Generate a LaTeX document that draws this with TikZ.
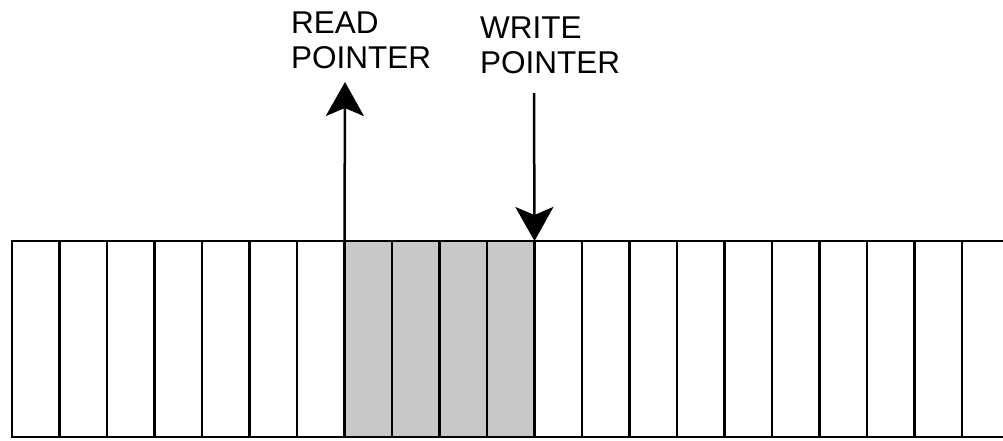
\documentclass[tikz,border=0pt]{standalone}
\usepackage{fontspec}
\newfontfamily\lblfont{Liberation Sans}
\usetikzlibrary{arrows.meta}
\definecolor{usedcell}{RGB}{200,200,200}
\begin{document}
\begin{tikzpicture}[x=1pt,y=-1pt,
  cell/.style={draw=black, line width=2.2pt, minimum width=47.5pt,
    minimum height=196pt, inner sep=0pt, outer sep=0pt, anchor=north west},
  usedbox/.style={cell, fill=usedcell},
  lbl/.style={font={\lblfont\fontsize{31.5}{34.5}\selectfont}, align=left,
    inner sep=0pt, anchor=north west},
  ptr/.style={line width=2.5pt, -{Stealth[length=34pt, width=38pt, inset=8pt]}}]
  \useasboundingbox[fill=white] (0,0) rectangle (1003,440);
  \clip (0,0) rectangle (1003,440);
  % buffer cells; 7..10 hold data
  \foreach \i in {0,...,21}{
    \pgfmathsetmacro{\cx}{12+47.5*\i}
    \ifnum\i<7
      \node[cell] (c\i) at (\cx,241) {};
    \else\ifnum\i>10
      \node[cell] (c\i) at (\cx,241) {};
    \else
      \node[usedbox] (c\i) at (\cx,241) {};
    \fi\fi
  }
  % heavier boundary at the write position
  \draw[line width=3.2pt] (c10.north east) -- (c10.south east);
  % labels
  \node[lbl] (rd) at (291,12) {READ\\POINTER};
  \node[lbl] (wr) at (480,17) {WRITE\\POINTER};
  % pointers
  \coordinate (rtip) at (345,82);
  \coordinate (wtail) at (534,93);
  \draw[ptr] (c7.north west) -- (rtip);
  \draw[ptr] (wtail) -- (c10.north east);
\end{tikzpicture}
\end{document}
